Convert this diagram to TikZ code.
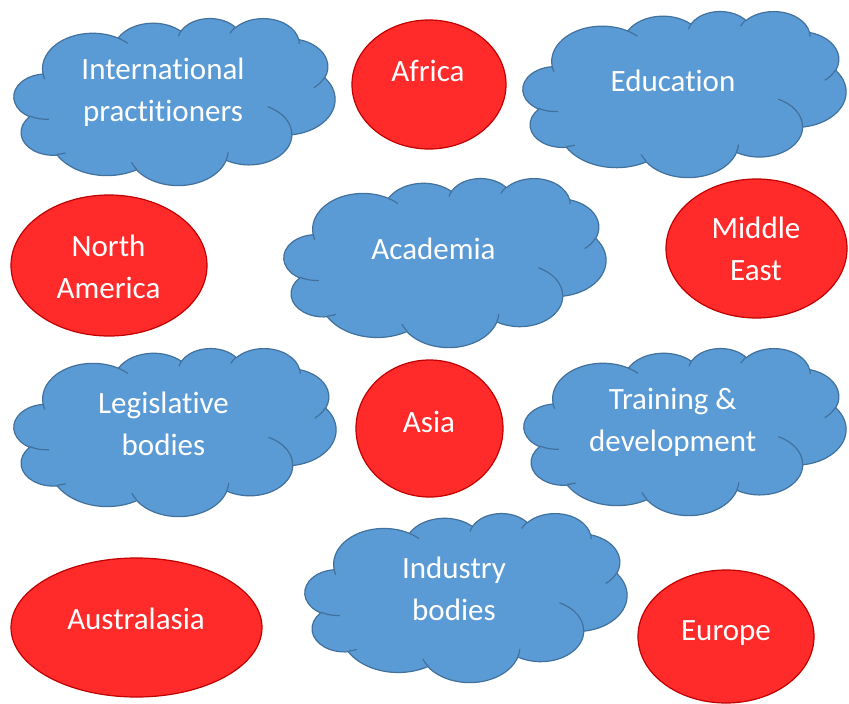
\documentclass[tikz,border=0pt]{standalone}
\usepackage{fontspec}
\setmainfont{Carlito}[Ligatures={NoCommon,NoContextual}]

\definecolor{cloudfill}{HTML}{5B9BD5}
\definecolor{cloudedge}{HTML}{41719C}
\definecolor{regionfill}{HTML}{FF2B2B}
\definecolor{regionedge}{HTML}{C00000}

\tikzset{
  bluecloud/.style={fill=cloudfill, draw=cloudedge, line width=1.2pt},
  cloudfold/.style={draw=cloudedge, line width=1.2pt},
  continent/.style={fill=regionfill, draw=regionedge, line width=1.2pt},
  caption/.style={text=white, font=\fontsize{31}{42}\selectfont, align=center, inner sep=0pt}
}

% cloud outline on a 100x100 grid: left, top, width, height (px)
\newcommand\wordcloud[4]{%
  \pgfmathsetmacro\cloudw{#3/100}%
  \pgfmathsetmacro\cloudh{#4/100}%
  \begin{scope}[shift={(#1pt,-#2pt)}, x=\cloudw pt, y=-\cloudh pt]
    \filldraw[bluecloud] (9.028,33.264)
      foreach \rx/\ry/\sa/\sw
        [evaluate={\sa as \pa using atan2(\rx*sin(\sa),\ry*cos(\sa))},
         evaluate={\sw as \pd using mod(atan2(\rx*sin(\sa+\sw),\ry*cos(\sa+\sw))-atan2(\rx*sin(\sa),\ry*cos(\sa))+720,360)}]
      in {15.632/21.273/-190.487/123.781, 12.345/16.822/-144.102/89.945,
          10.104/13.762/-145.808/99.723, 11.243/15.266/-130.986/117.242,
          12.345/16.836/-78.709/109.027, 15.683/21.343/-46.267/130.269,
          13.391/18.211/0.625/114.033, 15.630/21.331/22.452/115.173,
          17.870/24.405/66.243/75.711, 10.093/13.699/-274.942/146.736,
          10.058/13.762/-246.829/152.519}
      { arc[start angle=\pa, delta angle=\pd, x radius=\rx, y radius=\ry] } -- cycle;
    \foreach \mx/\my/\rx/\ry/\sa/\sw
        [evaluate={\sa as \pa using atan2(\rx*sin(\sa),\ry*cos(\sa))},
         evaluate={\sw as \pd using mod(atan2(\rx*sin(\sa+\sw),\ry*cos(\sa+\sw))-atan2(\rx*sin(\sa),\ry*cos(\sa))+720,360)}]
      in {10.863/60.595/10.058/13.762/86.742/26.430, 16.037/80.785/10.093/13.699/73.610/11.447,
          38.144/90.486/15.630/21.331/137.624/14.081, 66.729/80.442/15.630/21.331/6.453/15.998,
          79.002/53.134/13.391/18.211/-70.292/70.917, 96.755/35.542/12.345/16.836/30.318/27.752,
          88.713/12.560/11.243/15.266/-13.744/14.859, 67.310/9.148/11.243/15.266/-149.181/18.195,
          51.252/10.926/10.104/13.762/-163.494/17.686, 32.407/12.019/15.632/21.273/-66.707/12.319,
          9.553/36.549/15.632/21.273/157.654/11.858}
      {\draw[cloudfold] (\mx,\my) arc[start angle=\pa, delta angle=\pd, x radius=\rx, y radius=\ry];}
  \end{scope}}

\begin{document}
\begin{tikzpicture}[x=1pt, y=-1pt]
    \useasboundingbox (0,0) rectangle (849,704);

    % clouds
    \wordcloud{14}{18}{321}{167}
    \wordcloud{523}{11}{323}{166}
    \wordcloud{284}{178}{322}{169}
    \wordcloud{14}{348}{322}{168}
    \wordcloud{524}{348}{322}{167}
    \wordcloud{305}{513}{322}{169}

    % regions
    \filldraw[continent] (429,84.5) ellipse [x radius=77, y radius=64.5];
    \filldraw[continent] (109,265.5) ellipse [x radius=98, y radius=70.5];
    \filldraw[continent] (756.5,248.5) ellipse [x radius=90.5, y radius=69.5];
    \filldraw[continent] (429.5,428.5) ellipse [x radius=73.5, y radius=68.5];
    \filldraw[continent] (136.5,627.5) ellipse [x radius=125.5, y radius=69.5];
    \filldraw[continent] (726,636.5) ellipse [x radius=88, y radius=66.5];

    \node[caption] (intl) at (163,92.5) {International\\practitioners};
    \node[caption] (education) at (673,81) {Education};
    \node[caption] (academia) at (433.5,249) {Academia};
    \node[caption] (legislative) at (163.5,423.7) {Legislative\\bodies};
    \node[caption] (training) at (672.7,422.7) {Training \&\\development};
    \node[caption] (industry) at (454,588.5) {Industry\\bodies};

    \node[caption] (africa) at (428,71) {Africa};
    \node[caption] (namerica) at (108.5,266.5) {North\\America};
    \node[caption] (mideast) at (756,249) {Middle\\East};
    \node[caption] (asia) at (429,422) {Asia};
    \node[caption] (australasia) at (136,619) {Australasia};
    \node[caption] (europe) at (726,633) {Europe};
\end{tikzpicture}
\end{document}
